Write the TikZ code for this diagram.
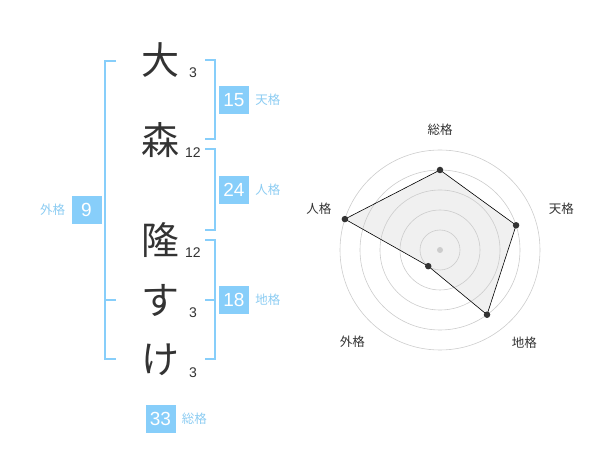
\documentclass[tikz,border=0pt]{standalone}
\usepackage{fontspec}
\setmainfont{Liberation Sans}
\newfontfamily\jp{Noto Sans CJK JP}
\usetikzlibrary{positioning}
\definecolor{kakublue}{RGB}{135,206,250}
\definecolor{kakulabel}{RGB}{140,204,242}
\definecolor{ink}{RGB}{51,51,51}
\tikzset{
  moji/.style={font=\jp\fontsize{38}{38}\selectfont, text=ink, inner sep=0pt},
  kaku/.style={font=\fontsize{14}{14}\selectfont, text=ink, inner sep=0pt},
  numbox/.style={fill=kakublue, text=white, font=\fontsize{19}{19}\selectfont, minimum width=30pt, minimum height=28pt, inner sep=0pt},
  kakulbl/.style={font=\jp\fontsize{12.5}{12.5}\selectfont, text=kakulabel, inner sep=0pt},
  bracket/.style={draw=kakublue, line width=2pt},
  ring/.style={draw=black!20, line width=0.6pt},
  axislbl/.style={font=\jp\fontsize{12.5}{12.5}\selectfont, text=ink, inner sep=0pt},
  dot/.style={circle, fill=ink, inner sep=0pt, minimum size=6.5pt},
}
\begin{document}
\begin{tikzpicture}[x=1pt,y=-1pt]
        \useasboundingbox (0,0) rectangle (600,470);
        \node[moji] (c1) at (160,60) {大};
        \node[moji] (c2) at (160,140) {森};
        \node[moji] (c3) at (160,240) {隆};
        \node[moji] (c4) at (160,300) {す};
        \node[moji] (c5) at (160,360) {け};
        \node[kaku] (s1) at (193,73) {3};
        \node[kaku] (s2) at (193,153) {12};
        \node[kaku] (s3) at (193,253) {12};
        \node[kaku] (s4) at (193,313) {3};
        \node[kaku] (s5) at (193,373) {3};
        \draw[bracket] (116,61) -- (105,61) -- (105,359) -- (116,359);
        \draw[bracket] (105,300) -- (116,300);
        \draw[bracket] (205,60) -- (215,60) -- (215,139) -- (205,139);
        \draw[bracket] (205,149) -- (215,149) -- (215,230) -- (205,230);
        \draw[bracket] (205,240) -- (215,240) -- (215,359) -- (205,359);
        \draw[bracket] (205,300) -- (215,300);
        \node[numbox] (ten) at (234,100) {15};
        \node[kakulbl, right=6pt of ten] {天格};
        \node[numbox] (jin) at (234,190) {24};
        \node[kakulbl, right=6pt of jin] {人格};
        \node[numbox] (chi) at (234,300) {18};
        \node[kakulbl, right=6pt of chi] {地格};
        \node[numbox] (gai) at (86.5,210) {9};
        \node[kakulbl, left=6pt of gai] {外格};
        \node[numbox] (sou) at (160.5,419) {33};
        \node[kakulbl, right=6pt of sou] {総格};
        \begin{scope}[shift={(440,250)}, y=1pt]
          \coordinate (p1) at (90:80);
          \coordinate (p2) at (18:80);
          \coordinate (p3) at (-54:80);
          \coordinate (p4) at (-126:20);
          \coordinate (p5) at (162:100);
          \fill[black!6] (p1) -- (p2) -- (p3) -- (p4) -- (p5) -- cycle;
          \foreach \r in {20,40,...,100}
            \draw[ring] (0,0) circle (\r);
          \draw[line width=0.6pt] (p1) -- (p2) -- (p3) -- (p4) -- (p5) -- cycle;
          \foreach \p in {p1,p2,p3,p4,p5}
            \node[dot] at (\p) {};
          \node[circle, fill=black!20, inner sep=0pt, minimum size=6pt] (o) at (0,0) {};
          \node[axislbl] at (90:120) {総格};
          \node[axislbl] at (18.6:128) {天格};
          \node[axislbl] at (-47.6:125) {地格};
          \node[axislbl] at (-133.7:127) {外格};
          \node[axislbl] at (161.3:128) {人格};
        \end{scope}
    \end{tikzpicture}
\end{document}
